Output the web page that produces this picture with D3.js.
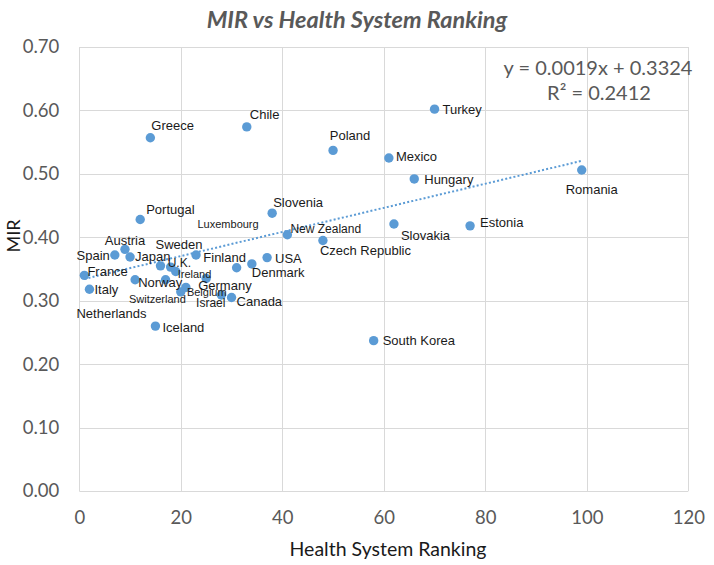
<!DOCTYPE html>
<html>
<head>
<meta charset="utf-8">
<script src="https://cdn.jsdelivr.net/npm/d3@7"></script>
<style>
  html, body { margin: 0; padding: 0; background: #fff; }
  svg { display: block; }
</style>
</head>
<body>
<svg id="chart" width="714" height="565"></svg>
<script>
// ---------- DATA ----------
const countries = ["France","Italy","Spain","Austria","Japan","Norway","Portugal","Greece","Iceland",
  "Luxembourg","Netherlands","U.K.","Ireland","Switzerland","Belgium","Sweden","Germany","Israel",
  "Canada","Finland","Chile","Denmark","USA","Slovenia","New Zealand","Czech Republic","Poland",
  "South Korea","Mexico","Slovakia","Hungary","Turkey","Estonia","Romania"];
const healthRanking = [1,2,7,9,10,11,12,14,15,16,17,18,19,20,21,23,25,28,30,31,33,34,37,38,41,48,50,58,61,62,66,70,77,99];
const mirValues = [0.340,0.318,0.372,0.381,0.369,0.333,0.428,0.557,0.260,0.355,0.333,0.353,0.346,0.314,0.321,
  0.372,0.335,0.309,0.305,0.352,0.574,0.358,0.368,0.438,0.404,0.395,0.537,0.237,0.525,0.421,0.492,0.602,0.418,0.506];
const trendSlope = 0.0019;
const trendIntercept = 0.3324;
const rSquared = 0.2412;
const xTickValues = [0,20,40,60,80,100,120];
const yTickValues = [0,0.1,0.2,0.3,0.4,0.5,0.6,0.7];
const chartTitle = "MIR vs Health System Ranking";
const xAxisTitle = "Health System Ranking";
const yAxisTitle = "MIR";

// ---------- LABEL LAYOUT (pixel offsets from the point, anchor, font size) ----------
const labelLayout = {
  "France": [3,-4,"start",13], "Italy": [5,0,"start",13], "Spain": [-5,0,"end",13],
  "Austria": [0,-9,"middle",13], "Japan": [5,0,"start",13], "Norway": [3,3,"start",13],
  "Portugal": [6,-10,"start",13], "Greece": [1,-12,"start",13], "Iceland": [7,1,"start",13],
  "Luxembourg": [37,-42,"start",11], "Netherlands": [-19,34,"end",13], "U.K.": [-3,-4,"start",12],
  "Ireland": [2,2,"start",11], "Switzerland": [5,7,"end",11], "Belgium": [1,5,"start",11],
  "Sweden": [-17,-11,"middle",13], "Germany": [-8,7,"start",13], "Israel": [4,8,"end",12],
  "Canada": [5,4,"start",13], "Finland": [-12,-10,"middle",13], "Chile": [3,-12,"start",13],
  "Denmark": [0,9,"start",13], "USA": [8,1,"start",13], "Slovenia": [1,-11,"start",13],
  "New Zealand": [3,-6,"start",12], "Czech Republic": [-3,10,"start",13], "Poland": [17,-15,"middle",13],
  "South Korea": [9,0,"start",13], "Mexico": [7,-2,"start",13], "Slovakia": [7,12,"start",13],
  "Hungary": [10,1,"start",13], "Turkey": [8,0,"start",13], "Estonia": [10,-3,"start",13],
  "Romania": [10,19,"middle",13]
};

// ---------- CHART ----------
const svg = d3.select("#chart");
const plot = { left: 79.3, right: 688.3, top: 47, bottom: 491 };
const blue = "#5B9BD5";
const gray = "#595959";
const uiFont = "Lato, 'Open Sans', sans-serif";
const labelFont = "'Liberation Sans', Arial, sans-serif";

const x = d3.scaleLinear().domain([0,120]).range([plot.left, plot.right]);
const y = d3.scaleLinear().domain([0,0.7]).range([plot.bottom, plot.top]);

// gridlines
const grid = svg.append("g");
grid.selectAll("line.h").data(yTickValues).join("line")
  .attr("x1", plot.left).attr("x2", plot.right)
  .attr("y1", d => Math.round(y(d)) + 0.5).attr("y2", d => Math.round(y(d)) + 0.5)
  .attr("stroke", "#d9d9d9").attr("stroke-width", 1);
grid.selectAll("line.v").data(xTickValues).join("line")
  .attr("y1", plot.top).attr("y2", plot.bottom)
  .attr("x1", d => Math.round(x(d)) + 0.5).attr("x2", d => Math.round(x(d)) + 0.5)
  .attr("stroke", "#d9d9d9").attr("stroke-width", 1);

// axes (labels only)
const yAxis = d3.axisLeft(y).tickValues(yTickValues).tickFormat(d3.format(".2f")).tickSize(0).tickPadding(20);
const gy = svg.append("g").attr("transform", `translate(${plot.left},0)`).call(yAxis);
gy.select(".domain").remove();
gy.selectAll("text").attr("font-family", uiFont).attr("font-size", 18.5).attr("fill", gray);

const xAxis = d3.axisBottom(x).tickValues(xTickValues).tickFormat(d3.format("d")).tickSize(0).tickPadding(20);
const gx = svg.append("g").attr("transform", `translate(0,${plot.bottom})`).call(xAxis);
gx.select(".domain").remove();
gx.selectAll("text").attr("font-family", uiFont).attr("font-size", 18.5).attr("fill", gray);

// trendline
const xMin = d3.min(healthRanking), xMax = d3.max(healthRanking);
svg.append("line")
  .attr("x1", x(xMin)).attr("y1", y(trendSlope * xMin + trendIntercept))
  .attr("x2", x(xMax)).attr("y2", y(trendSlope * xMax + trendIntercept))
  .attr("stroke", blue).attr("stroke-width", 2).attr("stroke-dasharray", "2,2.2");

// points
const data = countries.map((c, i) => ({ name: c, rank: healthRanking[i], mir: mirValues[i] }));
svg.append("g").selectAll("circle").data(data).join("circle")
  .attr("cx", d => x(d.rank)).attr("cy", d => y(d.mir)).attr("r", 4.7).attr("fill", blue);

// data labels
svg.append("g").selectAll("text").data(data).join("text")
  .attr("x", d => x(d.rank) + labelLayout[d.name][0])
  .attr("y", d => y(d.mir) + labelLayout[d.name][1])
  .attr("text-anchor", d => labelLayout[d.name][2])
  .attr("font-size", d => labelLayout[d.name][3])
  .attr("dominant-baseline", "central")
  .attr("font-family", labelFont).attr("fill", "#1a1a1a")
  .text(d => d.name);

// equation
svg.append("text").attr("x", 598).attr("y", 67).attr("text-anchor", "middle")
  .attr("dominant-baseline", "central").attr("font-family", uiFont).attr("font-size", 20).attr("fill", gray)
  .text(`y = ${trendSlope}x + ${trendIntercept}`);
svg.append("text").attr("x", 599).attr("y", 92).attr("text-anchor", "middle")
  .attr("dominant-baseline", "central").attr("font-family", uiFont).attr("font-size", 20).attr("fill", gray)
  .text(`R² = ${rSquared}`);

// titles
svg.append("text").attr("x", 357).attr("y", 19).attr("text-anchor", "middle")
  .attr("dominant-baseline", "central").attr("font-family", uiFont).attr("font-size", 23.5)
  .attr("font-weight", "bold").attr("font-style", "italic").attr("fill", gray)
  .text(chartTitle);
svg.append("text").attr("x", 388).attr("y", 548).attr("text-anchor", "middle")
  .attr("dominant-baseline", "central").attr("font-family", uiFont).attr("font-size", 19.5).attr("fill", "#1a1a1a")
  .text(xAxisTitle);
svg.append("text").attr("transform", "translate(13,236) rotate(-90)").attr("text-anchor", "middle")
  .attr("dominant-baseline", "central").attr("font-family", uiFont).attr("font-size", 18).attr("fill", "#1a1a1a")
  .text(yAxisTitle);
</script>
</body>
</html>
